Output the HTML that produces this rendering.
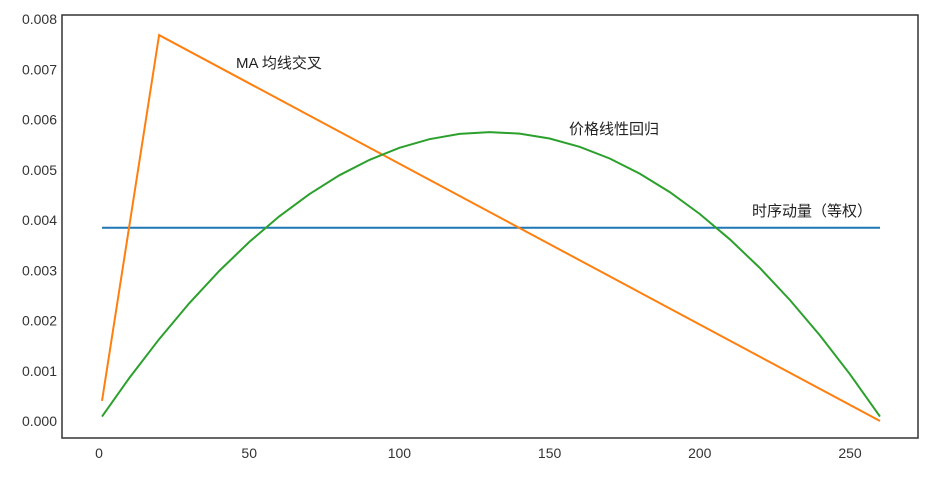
<!DOCTYPE html>
<html><head><meta charset="utf-8"><style>
body{margin:0;background:#fff;}
svg text{font-family:"Liberation Sans","Noto Sans CJK SC",sans-serif;}
</style></head><body>
<svg id="chart" width="943" height="474" xmlns="http://www.w3.org/2000/svg"></svg>
<script>
const xTicks=[0,50,100,150,200,250];
const yTicks=[0,0.001,0.002,0.003,0.004,0.005,0.006,0.007,0.008];
const yTickLabels=["0.000","0.001","0.002","0.003","0.004","0.005","0.006","0.007","0.008"];
const momentumX=[1,260];
const momentumY=[0.003846,0.003846];
const maX=[1,20,260];
const maY=[0.0004,0.00768,0.0];
const regX=[1,10,20,30,40,50,60,70,80,90,100,110,120,130,140,150,160,170,180,190,200,210,220,230,240,250,260];
const regY=[0.000088,0.000848,0.001628,0.00234,0.002985,0.003562,0.004072,0.004514,0.004889,0.005196,0.005436,0.005608,0.005713,0.00575,0.00572,0.005622,0.005456,0.005223,0.004923,0.004555,0.004119,0.003616,0.003045,0.002407,0.001701,0.000929,0.000088];
const seriesLabels=["时序动量（等权）","MA 均线交叉","价格线性回归"];

const NS="http://www.w3.org/2000/svg";
const svg=document.getElementById('chart');
const X0=99,XS=(850-99)/250, Y0=421, YS=(421-19)/0.008;
const xs=v=>X0+v*XS, ys=v=>Y0-v*YS;
function mk(t,a){const e=document.createElementNS(NS,t);for(const k in a)e.setAttribute(k,a[k]);svg.appendChild(e);return e;}

const frame=mk('rect',{x:62,y:15,width:856,height:423,fill:'none',stroke:'#333','stroke-width':1.5});



xTicks.forEach(v=>{
  const t=mk('text',{x:xs(v),y:458,'text-anchor':'middle','font-size':14,fill:'#333'});
  t.textContent=v;
  
  
});
yTicks.forEach((v,i)=>{
  const t=mk('text',{x:57,y:ys(v)+5,'text-anchor':'end','font-size':14,fill:'#333'});
  t.textContent=yTickLabels[i];
  
  
});

function line(xa,ya,color,name){
  const p=xa.map((x,i)=>xs(x).toFixed(1)+','+ys(ya[i]).toFixed(1)).join(' ');
  const l=mk('polyline',{points:p,fill:'none',stroke:color,'stroke-width':2});
  
  
}
line(momentumX,momentumY,'#1f77b4','momentum-line');
line(maX,maY,'#ff7f0e','ma-crossover-line');
line(regX,regY,'#2ca02c','regression-line');

const lbl=[[752,216],[236,68],[569,134]];
const names=['momentum-label','ma-crossover-label','regression-label'];
seriesLabels.forEach((s,i)=>{
  const t=mk('text',{x:lbl[i][0],y:lbl[i][1],'font-size':15,fill:'#222'});
  t.textContent=s;
  
  
});
</script>
</body></html>
